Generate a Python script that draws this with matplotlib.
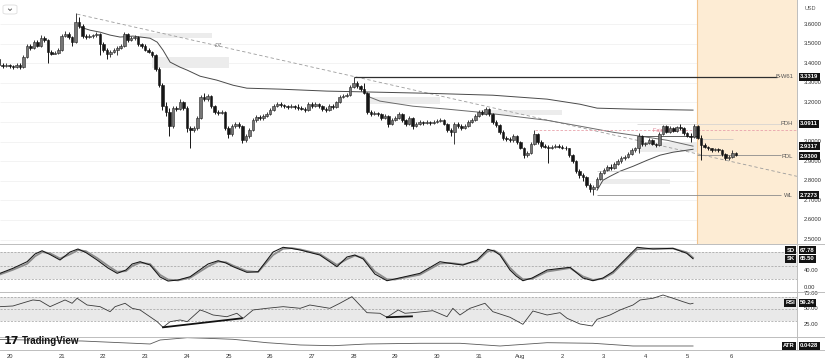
import numpy as np
import matplotlib
matplotlib.use("Agg")
import matplotlib.pyplot as plt
from matplotlib.transforms import blended_transform_factory
from matplotlib.patches import Rectangle, FancyBboxPatch
from matplotlib.lines import Line2D

plt.rcParams['font.family'] = ['Liberation Sans', 'DejaVu Sans']

W, H = 825, 364

# --- 2h candles, time in days of July (Aug 1 = 32) ---
t_start = 19.5
first_open = 3.42
closes = [
    3.39, 3.385, 3.39, 3.385, 3.38, 3.39,
    3.38, 3.43, 3.49, 3.48, 3.51, 3.49, 3.53, 3.52, 3.46, 3.45, 3.455, 3.47,
    3.54, 3.55, 3.535, 3.51, 3.61, 3.59, 3.54, 3.535, 3.54, 3.545, 3.55, 3.50,
    3.47, 3.45, 3.46, 3.47, 3.48, 3.49, 3.55, 3.52, 3.53, 3.535, 3.50, 3.49,
    3.47, 3.46, 3.44, 3.37, 3.29, 3.18, 3.15, 3.08, 3.17, 3.165, 3.20, 3.17,
    3.07, 3.06, 3.07, 3.12, 3.23, 3.22, 3.235, 3.18, 3.15, 3.145, 3.15, 3.07,
    3.04, 3.08, 3.09, 3.08, 3.01, 3.03, 3.06, 3.11, 3.125, 3.12, 3.13, 3.14,
    3.16, 3.18, 3.19, 3.185, 3.18, 3.175, 3.18, 3.175, 3.17, 3.168, 3.16, 3.19,
    3.18, 3.19, 3.18, 3.165, 3.16, 3.18, 3.175, 3.20, 3.23, 3.235, 3.24, 3.28,
    3.30, 3.285, 3.27, 3.25, 3.15, 3.14, 3.145, 3.14, 3.12, 3.13, 3.09, 3.11,
    3.12, 3.14, 3.11, 3.09, 3.12, 3.08, 3.09, 3.10, 3.095, 3.10, 3.095, 3.10,
    3.105, 3.11, 3.09, 3.06, 3.05, 3.09, 3.08, 3.07, 3.08, 3.10, 3.11, 3.13,
    3.15, 3.14, 3.165, 3.14, 3.10, 3.085, 3.05, 3.02, 3.015, 3.01, 3.03, 3.00,
    2.97, 2.93, 2.94, 2.99, 3.04, 3.00, 2.98, 2.975, 2.97, 2.975, 2.98, 2.975,
    2.97, 2.965, 2.93, 2.90, 2.85, 2.83, 2.82, 2.78, 2.76, 2.77, 2.81, 2.84,
    2.855, 2.87, 2.865, 2.885, 2.90, 2.915, 2.92, 2.935, 2.955, 2.965, 3.03, 2.99,
    2.995, 3.01, 2.99, 2.985, 3.04, 3.08, 3.05, 3.07, 3.055, 3.075, 3.07, 3.045,
    3.03, 3.025, 3.08, 3.02, 2.985, 2.975, 2.965, 2.955, 2.96, 2.955, 2.935, 2.915,
    2.92, 2.94, 2.9317,
]
highs = [
    3.43, 3.40, 3.40, 3.395, 3.39, 3.40,
    3.40, 3.44, 3.50, 3.50, 3.52, 3.52, 3.545, 3.54, 3.525, 3.47, 3.465, 3.48,
    3.55, 3.565, 3.56, 3.54, 3.656, 3.635, 3.60, 3.55, 3.55, 3.55, 3.56, 3.555,
    3.51, 3.48, 3.47, 3.48, 3.49, 3.50, 3.56, 3.555, 3.54, 3.545, 3.54, 3.505,
    3.50, 3.48, 3.465, 3.445, 3.38, 3.30, 3.20, 3.17, 3.18, 3.18, 3.22, 3.21,
    3.18, 3.08, 3.08, 3.13, 3.24, 3.25, 3.245, 3.24, 3.185, 3.16, 3.16, 3.155,
    3.08, 3.09, 3.10, 3.10, 3.085, 3.04, 3.07, 3.12, 3.135, 3.135, 3.14, 3.15,
    3.17, 3.19, 3.20, 3.20, 3.19, 3.185, 3.19, 3.185, 3.19, 3.18, 3.175, 3.20,
    3.20, 3.20, 3.195, 3.185, 3.175, 3.19, 3.19, 3.21, 3.24, 3.245, 3.25, 3.29,
    3.3319, 3.31, 3.29, 3.30, 3.255, 3.16, 3.155, 3.15, 3.145, 3.14, 3.135, 3.12,
    3.13, 3.15, 3.145, 3.115, 3.13, 3.125, 3.10, 3.11, 3.105, 3.11, 3.105, 3.11,
    3.115, 3.12, 3.115, 3.095, 3.07, 3.10, 3.10, 3.09, 3.09, 3.11, 3.12, 3.14,
    3.16, 3.16, 3.176, 3.17, 3.145, 3.11, 3.09, 3.06, 3.03, 3.025, 3.04, 3.035,
    3.005, 2.975, 2.95, 3.00, 3.058, 3.045, 3.01, 2.99, 2.985, 2.985, 2.99, 2.99,
    2.985, 2.98, 2.97, 2.935, 2.905, 2.86, 2.84, 2.825, 2.79, 2.78, 2.82, 2.85,
    2.865, 2.88, 2.885, 2.895, 2.91, 2.925, 2.93, 2.945, 2.965, 2.975, 3.045, 3.035,
    3.00, 3.02, 3.015, 2.995, 3.05, 3.085, 3.085, 3.08, 3.075, 3.08, 3.0911, 3.075,
    3.05, 3.045, 3.088, 3.085, 3.035, 2.995, 2.98, 2.97, 2.97, 2.965, 2.96, 2.94,
    2.93, 2.955, 2.945,
]
lows = [
    3.38, 3.375, 3.38, 3.375, 3.37, 3.375,
    3.37, 3.375, 3.425, 3.47, 3.475, 3.485, 3.485, 3.51, 3.40, 3.44, 3.445, 3.45,
    3.465, 3.535, 3.525, 3.49, 3.505, 3.58, 3.53, 3.525, 3.53, 3.53, 3.535, 3.44,
    3.46, 3.42, 3.43, 3.455, 3.44, 3.475, 3.485, 3.51, 3.515, 3.52, 3.49, 3.48,
    3.465, 3.455, 3.43, 3.36, 3.28, 3.16, 3.13, 3.03, 3.07, 3.155, 3.16, 3.16,
    3.05, 2.966, 3.05, 3.06, 3.115, 3.21, 3.21, 3.17, 3.14, 3.135, 3.14, 3.06,
    3.02, 3.03, 3.07, 3.07, 2.995, 3.00, 3.02, 3.055, 3.10, 3.11, 3.11, 3.125,
    3.135, 3.155, 3.175, 3.175, 3.17, 3.165, 3.17, 3.165, 3.16, 3.16, 3.15, 3.155,
    3.17, 3.175, 3.17, 3.155, 3.15, 3.155, 3.165, 3.17, 3.195, 3.225, 3.23, 3.235,
    3.275, 3.275, 3.26, 3.245, 3.14, 3.13, 3.135, 3.13, 3.11, 3.115, 3.075, 3.085,
    3.105, 3.115, 3.10, 3.08, 3.085, 3.065, 3.075, 3.085, 3.085, 3.09, 3.085, 3.09,
    3.095, 3.10, 3.085, 3.05, 3.03, 2.99, 3.07, 3.06, 3.065, 3.075, 3.095, 3.105,
    3.125, 3.135, 3.135, 3.13, 3.09, 3.075, 3.04, 3.01, 3.005, 3.00, 3.00, 2.99,
    2.96, 2.915, 2.92, 2.935, 2.985, 2.99, 2.97, 2.965, 2.89, 2.96, 2.97, 2.965,
    2.96, 2.955, 2.92, 2.89, 2.84, 2.815, 2.80, 2.77, 2.745, 2.7273, 2.765, 2.805,
    2.835, 2.85, 2.855, 2.86, 2.88, 2.89, 2.905, 2.915, 2.93, 2.945, 2.94, 2.98,
    2.98, 2.99, 2.985, 2.975, 2.98, 3.035, 3.045, 3.045, 3.05, 3.05, 3.06, 3.035,
    3.025, 2.997, 3.02, 3.015, 2.905, 2.965, 2.955, 2.945, 2.95, 2.945, 2.925, 2.905,
    2.905, 2.915, 2.925,
]

# overlay lines (time, price)
vwap_hi_t = [21.44, 21.68, 21.92, 22.16, 22.40, 22.71, 23.12, 23.29, 23.43, 23.60, 23.84,
             24.01, 24.32, 24.72, 25.11, 25.44, 26.24, 27.36, 28.47, 29.76, 30.55, 31.34,
             32.64, 33.43, 33.84, 34.70, 36.14]
vwap_hi_p = [3.585, 3.569, 3.559, 3.544, 3.534, 3.539, 3.528, 3.508, 3.467, 3.406, 3.380,
             3.365, 3.334, 3.314, 3.288, 3.273, 3.268, 3.258, 3.253, 3.247, 3.242, 3.237,
             3.217, 3.191, 3.171, 3.166, 3.161]
vwap_mid_t = [28.25, 28.39, 28.63, 29.42, 30.24, 31.03, 31.82, 32.64, 33.43, 34.22, 34.87, 35.52, 36.14]
vwap_mid_p = [3.263, 3.227, 3.207, 3.181, 3.166, 3.150, 3.130, 3.109, 3.079, 3.048, 3.028, 3.007, 2.977]
vwap_lo_t = [33.84, 33.98, 34.15, 34.39, 34.70, 35.04, 35.35, 35.66, 36.14]
vwap_lo_p = [2.752, 2.803, 2.823, 2.849, 2.874, 2.905, 2.931, 2.946, 2.961]
trend_t = [21.37, 38.63]
trend_p = [3.651, 2.823]

# key levels
bw61, pdh, pdl, wl, last = 3.3319, 3.0911, 2.9300, 2.7273, 2.9317

# zones: t0, t1, p_low, p_high
zones = [(22.88, 24.61, 3.528, 3.554), (23.17, 25.01, 3.375, 3.431),
         (28.39, 30.07, 3.191, 3.227), (31.03, 33.00, 3.135, 3.161),
         (34.82, 36.23, 2.946, 2.997), (33.84, 35.59, 2.782, 2.808)]

# stochastic
st_t = [19.52, 19.83, 20.17, 20.36, 20.53, 20.72, 20.96, 21.20, 21.39, 21.58, 21.85, 22.11,
        22.33, 22.54, 22.69, 22.88, 23.12, 23.36, 23.55, 23.79, 24.08, 24.51, 24.75, 24.94,
        25.11, 25.44, 25.71, 26.07, 26.31, 26.52, 26.72, 27.19, 27.60, 27.84, 28.03, 28.23,
        28.51, 28.80, 28.99, 29.59, 30.07, 30.31, 30.62, 30.96, 31.22, 31.37, 31.51, 31.75,
        31.90, 32.06, 32.28, 32.64, 33.19, 33.50, 33.74, 33.98, 34.22, 34.80, 35.18, 35.66,
        35.99, 36.14]
st_k = [32.5, 43.8, 58.8, 76.2, 83.6, 75.0, 62.6, 80.7, 87.5, 79.5, 62.6, 44.5,
        32.5, 40.0, 53.6, 58.8, 51.3, 24.2, 15.1, 17.4, 24.9, 53.6, 61.0, 55.8,
        47.5, 34.8, 36.2, 80.7, 91.3, 88.6, 85.2, 73.9, 47.5, 69.4, 73.9, 64.9,
        31.0, 15.8, 19.7, 32.5, 58.8, 55.1, 51.3, 62.6, 86.8, 82.9, 73.9, 40.0,
        26.4, 15.8, 21.9, 40.0, 46.1, 21.9, 15.8, 21.9, 36.2, 91.3, 87.5, 89.0,
        77.7, 65.5]
st_d = [30.0, 40.5, 54.0, 71.0, 80.5, 78.0, 66.0, 75.5, 85.0, 82.5, 67.0, 49.5,
        36.0, 37.5, 49.0, 56.5, 53.5, 29.0, 18.5, 16.5, 22.5, 48.0, 59.0, 57.5,
        50.0, 37.5, 35.5, 74.0, 88.0, 89.5, 86.5, 76.0, 51.5, 64.5, 72.5, 67.5,
        36.5, 19.0, 18.5, 29.5, 54.5, 56.0, 52.5, 60.0, 82.5, 84.0, 76.5, 45.0,
        31.0, 19.0, 20.0, 36.5, 44.5, 25.5, 17.5, 20.5, 33.0, 87.0, 88.5, 88.5,
        80.0, 67.78]

# RSI
rsi_t = [19.52, 19.83, 20.17, 20.31, 20.48, 20.72, 21.08, 21.25, 21.37, 21.61, 21.92, 22.16,
         22.28, 22.52, 22.69, 22.88, 23.29, 23.43, 23.60, 23.84, 24.01, 24.32, 24.44, 24.63,
         24.96, 25.20, 25.35, 25.59, 25.92, 26.31, 26.72, 26.95, 27.19, 27.43, 27.67, 27.96,
         28.32, 28.63, 28.80, 29.07, 29.23, 29.42, 29.90, 30.24, 30.38, 30.55, 30.79, 31.15,
         31.34, 31.75, 32.06, 32.30, 32.64, 32.95, 33.12, 33.43, 33.72, 33.84, 34.15, 34.39,
         34.70, 34.87, 35.18, 35.42, 35.66, 35.90, 36.07, 36.14]
rsi_v = [53.8, 54.9, 61.9, 64.7, 63.5, 53.8, 64.7, 59.3, 67.5, 56.5, 53.8, 45.6,
         53.8, 59.3, 51.1, 48.4, 29.3, 20.1, 29.3, 32.1, 29.3, 48.4, 45.6, 40.2,
         37.4, 43.0, 34.8, 48.4, 51.1, 53.8, 51.1, 56.5, 53.8, 51.1, 59.3, 70.1,
         44.0, 43.0, 36.5, 48.4, 43.0, 44.0, 47.2, 37.4, 51.1, 40.2, 51.1, 59.3,
         45.6, 36.5, 25.0, 46.7, 40.2, 44.0, 34.8, 25.5, 22.3, 33.2, 40.2, 48.4,
         56.5, 64.7, 67.5, 72.8, 67.5, 61.9, 58.2, 59.24]
div1_t, div1_v = [23.43, 25.32], [20.1, 34.8]
div2_t, div2_v = [28.80, 29.40], [36.5, 38.0]

# ATR
atr_t = [19.52, 21.49, 23.12, 23.36, 24.01, 24.48, 25.11, 25.92, 26.72, 27.51, 28.32,
         29.59, 30.55, 31.51, 32.64, 33.74, 34.70, 36.14]
atr_v = [0.0718, 0.0651, 0.0517, 0.0696, 0.0799, 0.0772, 0.0727, 0.0575, 0.0473, 0.0441,
         0.0517, 0.0549, 0.0549, 0.0428, 0.0575, 0.0549, 0.0428, 0.0428]

price_ticks = [3.6, 3.5, 3.4, 3.3, 3.2, 3.1, 3.0, 2.9, 2.8, 2.7, 2.6, 2.5]
price_labels = [3.6, 3.5, 3.4, 3.3, 3.2, 3.0, 2.9, 2.8, 2.7, 2.6, 2.5]
day_pos = [19.76, 21, 22, 23, 24, 25, 26, 27, 28, 29, 30, 31, 32, 33, 34, 35, 36, 37.05]
day_lbl = ['20', '21', '22', '23', '24', '25', '26', '27', '28', '29', '30', '31',
           'Aug', '2', '3', '4', '5', '6']

assert len(closes) == len(highs) == len(lows)
assert len(st_t) == len(st_k) == len(st_d)
assert len(rsi_t) == len(rsi_v)

X0, X1 = 19.5204, 38.6331
fig = plt.figure(figsize=(W / 100, H / 100), dpi=100)


def pane(y0, y1):
    a = fig.add_axes([0, 1 - y1 / H, 797 / W, (y1 - y0) / H])
    a.set_xlim(X0, X1)
    a.set_axis_off()
    return a


ax = pane(0, 244.3)
ax_st = pane(244.3, 291.7)
ax_rsi = pane(291.7, 336.7)
ax_atr = pane(336.7, 350)
ax.set_ylim(2.4758, 3.7232)
ax_st.set_ylim(-9.0, 98.1)
ax_rsi.set_ylim(4.8, 78.2)
ax_atr.set_ylim(0.0249, 0.0843)

# --- main pane ---
ax.hlines(price_ticks, X0, X1, color='#f1f1f1', lw=0.6, zorder=0)
ax.axvspan(36.23, X1, color='#fdecd4', zorder=0.5, lw=0)
ax.axvline(36.23, color='#f3c48c', lw=0.8, zorder=0.6)

for t0, t1, pl, ph in zones:
    ax.add_patch(Rectangle((t0, pl), t1 - t0, ph - pl, fc='#ececec', ec='none', zorder=1))

ax.plot(trend_t, trend_p, color='#9c9c9c', lw=0.6, dashes=(4, 3), zorder=2)
ax.plot(vwap_hi_t, vwap_hi_p, color='#4a4a4a', lw=0.7, zorder=2)
ax.plot(vwap_mid_t, vwap_mid_p, color='#6a6a6a', lw=0.7, zorder=2)
ax.plot(vwap_lo_t, vwap_lo_p, color='#4a4a4a', lw=0.7, zorder=2)

ax.hlines(bw61, 28.0, 38.15, color='#2e2e2e', lw=0.9, zorder=2)
ax.hlines(pdh, 34.8, 38.25, color='#d0d0d0', lw=0.5, zorder=2)
ax.hlines(pdl, 36.23, 38.25, color='#8c8c8c', lw=0.6, zorder=2)
ax.hlines(wl, 33.84, 38.25, color='#8c8c8c', lw=0.6, zorder=2)
ax.hlines(3.058, 32.35, X1, color='#e8a3ac', lw=0.6, linestyles=(0, (3, 2)), zorder=2)
ax.hlines(3.028, 34.82, 36.23, color='#444444', lw=0.6, zorder=2)
ax.hlines(2.849, 33.84, 36.16, color='#c4c4c4', lw=0.5, zorder=2)
ax.hlines(3.012, 36.30, 37.10, color='#c4c4c4', lw=0.5, zorder=2)

ax.text(24.68, 3.493, 'D7', fontsize=4, color='#777777', style='italic', va='center')
ax.text(35.18, 3.058, 'Fair Value', fontsize=4, color='#e07f90', va='center', zorder=2.5)

# candles
c = np.array(closes)
o = np.array([first_open] + closes[:-1])
hi = np.array(highs)
lo = np.array(lows)
t = t_start + np.arange(len(c)) / 12.0
up = c >= o
ax.vlines(t[up], lo[up], hi[up], color='#3c3c3c', lw=0.7, zorder=3)
ax.vlines(t[~up], lo[~up], hi[~up], color='#151515', lw=0.7, zorder=3)
bw = 0.062
ax.bar(t[up], np.maximum(c[up] - o[up], 0.003), bottom=o[up], width=bw,
       color='#767676', edgecolor='#262626', lw=0.4, zorder=4)
ax.bar(t[~up], np.maximum(o[~up] - c[~up], 0.003), bottom=c[~up], width=bw,
       color='#151515', edgecolor='#151515', lw=0.4, zorder=4)

# --- stochastic pane ---
ax_st.axhspan(20, 80, color='#e9e9e9', lw=0, zorder=0)
for v in (80, 50, 20):
    ax_st.axhline(v, color='#9e9e9e', lw=0.5, dashes=(3, 2), zorder=1)
ax_st.plot(st_t, st_d, color='#8c8c8c', lw=1.3, zorder=2)
ax_st.plot(st_t, st_k, color='#151515', lw=0.75, zorder=3)

# --- RSI pane ---
ax_rsi.axhspan(30, 70, color='#e9e9e9', lw=0, zorder=0)
for v in (70, 50, 30):
    ax_rsi.axhline(v, color='#9e9e9e', lw=0.5, dashes=(3, 2), zorder=1)
ax_rsi.plot(rsi_t, rsi_v, color='#3a3a3a', lw=0.6, zorder=2)
ax_rsi.plot(div1_t, div1_v, color='#111111', lw=1.3, zorder=3)
ax_rsi.plot(div2_t, div2_v, color='#111111', lw=1.3, zorder=3)

# --- ATR pane ---
ax_atr.plot(atr_t, atr_v, color='#5a5a5a', lw=0.6)

# pane borders
for yy in (244.3, 291.7, 336.7, 350):
    fig.add_artist(Line2D([0, 1], [1 - yy / H] * 2, color='#bdbdbd', lw=0.7))
fig.add_artist(Line2D([797 / W] * 2, [1 - 350 / H, 1], color='#bdbdbd', lw=0.7))

# --- right axis labels ---
fs = 4.2
box = dict(boxstyle='square,pad=0.25', fc='#131313', ec='none')
tr_main = blended_transform_factory(fig.transFigure, ax.transData)
for p in price_labels:
    ax.text(804 / W, p, f'{p:.4f}', transform=tr_main, fontsize=fs, color='#333333',
            va='center', clip_on=False)
for txt, pos in [('3.3319', bw61), ('3.0911', pdh), ('2.9317', 2.9766), ('2.9300', 2.926),
                 ('2.7273', wl)]:
    ax.text(800 / W, pos, txt, transform=tr_main, fontsize=fs, color='white', va='center',
            fontweight='bold', bbox=box, clip_on=False, zorder=10)
for txt, pos in [('B-W61', bw61), ('PDH', pdh), ('PDL', 2.926), ('WL', wl)]:
    ax.text(793 / W, pos, txt, transform=tr_main, fontsize=fs, color='#555555', va='center',
            ha='right', clip_on=False, zorder=10)
fig.text(805 / W, 1 - 9 / H, 'USD', fontsize=4, color='#555555', va='center')

tr_st = blended_transform_factory(fig.transFigure, ax_st.transData)
for v in (40, 0):
    ax_st.text(804 / W, v, f'{v:.2f}', transform=tr_st, fontsize=fs, color='#333333',
               va='center', clip_on=False)
for tag, txt, pos in [('SD', '67.78', 84.5), ('SK', '65.50', 65.5)]:
    ax_st.text(795 / W, pos, tag, transform=tr_st, fontsize=fs, color='white', va='center',
               ha='right', fontweight='bold', bbox=box, clip_on=False, zorder=10)
    ax_st.text(800 / W, pos, txt, transform=tr_st, fontsize=fs, color='white', va='center',
               fontweight='bold', bbox=box, clip_on=False, zorder=10)

tr_rsi = blended_transform_factory(fig.transFigure, ax_rsi.transData)
for v in (75, 50, 25):
    ax_rsi.text(804 / W, v, f'{v:.2f}', transform=tr_rsi, fontsize=fs, color='#333333',
                va='center', clip_on=False)
ax_rsi.text(795 / W, 60.3, 'RSI', transform=tr_rsi, fontsize=fs, color='white', va='center',
            ha='right', fontweight='bold', bbox=box, clip_on=False, zorder=10)
ax_rsi.text(800 / W, 60.3, '59.24', transform=tr_rsi, fontsize=fs, color='white', va='center',
            fontweight='bold', bbox=box, clip_on=False, zorder=10)

tr_atr = blended_transform_factory(fig.transFigure, ax_atr.transData)
ax_atr.text(795 / W, 0.0428, 'ATR', transform=tr_atr, fontsize=fs, color='white', va='center',
            ha='right', fontweight='bold', bbox=box, clip_on=False, zorder=10)
ax_atr.text(800 / W, 0.0428, '0.0428', transform=tr_atr, fontsize=fs, color='white', va='center',
            fontweight='bold', bbox=box, clip_on=False, zorder=10)

# date axis
tr_date = blended_transform_factory(ax.transData, fig.transFigure)
for pos, lbl in zip(day_pos, day_lbl):
    fig.text(pos, 1 - 356.5 / H, lbl, transform=tr_date, fontsize=fs, color='#333333',
             ha='center', va='center')

# logo + menu button
fig.text(4 / W, 1 - 341 / H, '17', fontsize=8, fontweight='heavy', color='#131313',
         va='center', family='DejaVu Sans')
fig.text(22 / W, 1 - 341 / H, 'TradingView', fontsize=7, fontweight='bold', color='#131313',
         va='center')
fig.add_artist(FancyBboxPatch((3 / W, 1 - 14 / H), 14 / W, 9 / H, transform=fig.transFigure,
                              boxstyle='round,pad=0,rounding_size=0.004', fc='white',
                              ec='#dcdcdc', lw=0.6))
fig.add_artist(Line2D([8.5 / W, 10 / W, 11.5 / W], [1 - 9 / H, 1 - 10.5 / H, 1 - 9 / H],
                      color='#444444', lw=0.6))

fig.savefig('out.png', dpi=100, facecolor='white')
